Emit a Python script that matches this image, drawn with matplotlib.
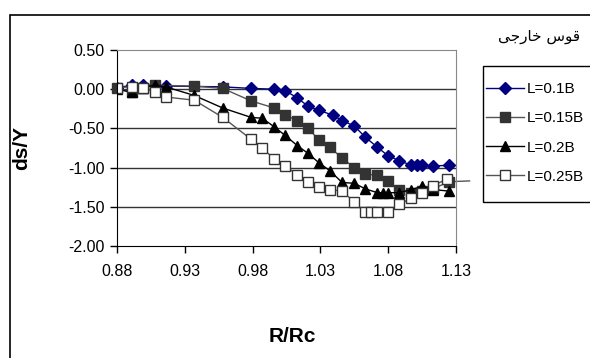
import matplotlib.pyplot as plt
from matplotlib.patches import Rectangle

# L = 0.1B
x1 = [0.880, 0.891, 0.899, 0.916, 0.958, 0.979, 0.996, 1.004, 1.013, 1.021, 1.029,
      1.039, 1.046, 1.055, 1.063, 1.072, 1.080, 1.088, 1.097, 1.101, 1.105, 1.113, 1.125]
y1 = [0.02, 0.05, 0.05, 0.04, 0.03, 0.01, 0.00, -0.02, -0.11, -0.22, -0.27,
      -0.33, -0.40, -0.47, -0.61, -0.74, -0.85, -0.91, -0.97, -0.97, -0.97, -0.98, -0.97]

# L = 0.15B (last point lies just past the right axis, drawn without a marker)
x2 = [0.880, 0.891, 0.899, 0.908, 0.937, 0.958, 0.979, 0.996, 1.004, 1.013, 1.021,
      1.029, 1.037, 1.046, 1.055, 1.063, 1.072, 1.080, 1.088, 1.097, 1.105, 1.113, 1.125, 1.140]
y2 = [0.01, -0.04, 0.02, 0.05, 0.04, 0.01, -0.15, -0.24, -0.33, -0.40, -0.50,
      -0.65, -0.74, -0.88, -1.00, -1.08, -1.10, -1.17, -1.29, -1.32, -1.30, -1.27, -1.18, -1.17]

# L = 0.2B
x3 = [0.880, 0.891, 0.899, 0.908, 0.916, 0.937, 0.958, 0.979, 0.987, 0.996, 1.004,
      1.013, 1.021, 1.029, 1.037, 1.046, 1.055, 1.063, 1.072, 1.076, 1.080, 1.088,
      1.097, 1.105, 1.113, 1.125]
y3 = [0.00, -0.04, 0.02, 0.05, 0.03, -0.08, -0.24, -0.36, -0.37, -0.48, -0.59,
      -0.72, -0.82, -0.94, -1.04, -1.19, -1.20, -1.27, -1.32, -1.32, -1.32, -1.32,
      -1.28, -1.24, -1.28, -1.30]

# L = 0.25B
x4 = [0.880, 0.891, 0.899, 0.908, 0.916, 0.937, 0.958, 0.979, 0.987, 0.996, 1.004,
      1.013, 1.021, 1.029, 1.037, 1.046, 1.055, 1.063, 1.067, 1.072, 1.080, 1.088,
      1.097, 1.105, 1.113, 1.123]
y4 = [0.02, 0.03, 0.02, -0.03, -0.10, -0.14, -0.36, -0.64, -0.75, -0.89, -0.98,
      -1.09, -1.19, -1.25, -1.28, -1.30, -1.44, -1.57, -1.57, -1.57, -1.57, -1.47,
      -1.39, -1.32, -1.23, -1.15]

labels = ["L=0.1B", "L=0.15B", "L=0.2B", "L=0.25B"]
xticks = [0.88, 0.93, 0.98, 1.03, 1.08, 1.13]
yticks = [0.50, 0.00, -0.50, -1.00, -1.50, -2.00]
title = "\uFBFD\uFE9F\uFEAD\uFE8E\uFEA7 \uFEB1\uFEEE\uFED7"  # "قوس خارجی" shaped for LTR drawing

plt.rcParams["font.family"] = ["Liberation Sans", "DejaVu Sans"]

fig = plt.figure(figsize=(5.9, 3.58), dpi=100)
ax = fig.add_axes([117 / 590, 1 - 246 / 358, 339 / 590, 196 / 358])

ax.plot(x1, y1, color="#000080", lw=1.0, marker="D", ms=6.5, mfc="#000080", mec="#000080", label=labels[0])
ax.plot(x2, y2, color="#555555", lw=1.0, marker="s", ms=6.5, mfc="#333333", mec="#333333",
        markevery=list(range(len(x2) - 1)), clip_on=False, label=labels[1])
ax.plot(x3, y3, color="black", lw=1.0, marker="^", ms=7.5, mfc="black", mec="black", label=labels[2])
ax.plot(x4, y4, color="#555555", lw=1.0, marker="s", ms=6.5, mfc="white", mec="#333333", mew=1.0, label=labels[3])

ax.set_xlim(0.88, 1.13)
ax.set_ylim(-2.0, 0.5)
ax.set_xticks(xticks)
ax.set_xticklabels([f"{t:.2f}" for t in xticks])
ax.set_yticks(yticks)
ax.set_yticklabels([f"{t:.2f}" for t in yticks])
ax.tick_params(axis="both", direction="out", length=5, width=1, labelsize=11.5, pad=4)
ax.tick_params(axis="x", pad=8)

for t in yticks[1:-1]:
    ax.axhline(t, color="#333333", lw=1.0, zorder=0)
ax.spines["top"].set_color("#888888")
ax.spines["right"].set_color("#888888")
ax.spines["left"].set_color("black")
ax.spines["bottom"].set_color("black")

fig.text(292 / 590, 1 - 337 / 358, "R/Rc", ha="center", va="center", fontsize=15, fontweight="bold")
fig.text(22 / 590, 1 - 148 / 358, "ds/Y", ha="center", va="center", rotation=90, fontsize=15, fontweight="bold")
fig.text(539 / 590, 1 - 37 / 358, title, ha="center", va="center", fontsize=11, family="DejaVu Sans")

# legend entries without their own frame; the box is drawn separately so it can run off the right edge
leg = ax.legend(loc="upper left", bbox_to_anchor=(486 / 590, 1 - 82 / 358), bbox_transform=fig.transFigure,
                fontsize=11, frameon=False, handlelength=2.5, handletextpad=0.2,
                labelspacing=1.0, borderpad=0, borderaxespad=0)
fig.patches.append(Rectangle((483 / 590, 1 - 202 / 358), 0.2, 136 / 358, transform=fig.transFigure,
                             fill=False, edgecolor="black", lw=1.0))

fig.patches.append(Rectangle((10 / 590, -0.05), 1.0, 1 - 15 / 358 + 0.05, transform=fig.transFigure,
                             fill=False, edgecolor="black", lw=1.2))

fig.savefig("out.png", dpi=100)
